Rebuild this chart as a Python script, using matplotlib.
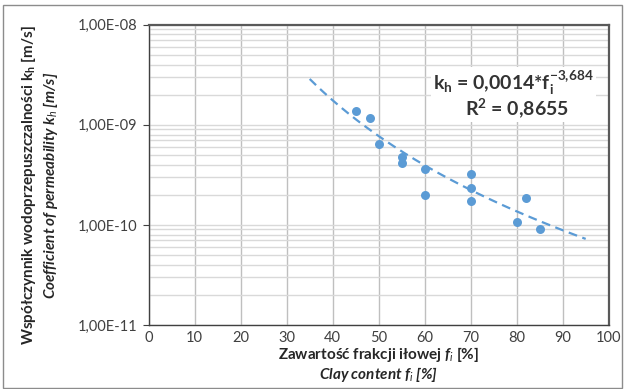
import matplotlib
matplotlib.use("Agg")
import matplotlib.pyplot as plt
import numpy as np
from matplotlib.patches import Rectangle
from matplotlib.ticker import FixedLocator, LogLocator, NullFormatter

plt.rcParams['font.family'] = ['Lato', 'DejaVu Sans']
plt.rcParams['mathtext.fontset'] = 'custom'
plt.rcParams['mathtext.rm'] = 'Lato'
plt.rcParams['mathtext.it'] = 'Lato:italic'
plt.rcParams['mathtext.bf'] = 'Lato:bold'
plt.rcParams['mathtext.bfit'] = 'Lato:bold:italic'

# data
clay = [45, 48, 50, 55, 55, 60, 60, 70, 70, 70, 80, 82, 85]
kh = [1.38e-9, 1.18e-9, 6.5e-10, 4.8e-10, 4.2e-10, 3.65e-10, 2.0e-10,
      3.2e-10, 2.35e-10, 1.75e-10, 1.07e-10, 1.87e-10, 9.2e-11]
trend_a = 0.0014
trend_b = -3.684
trend_range = [35, 95]
x_ticks = [0, 10, 20, 30, 40, 50, 60, 70, 80, 90, 100]
y_ticks = [1e-11, 1e-10, 1e-9, 1e-8]
y_ticklabels = ['1,00E-11', '1,00E-10', '1,00E-09', '1,00E-08']

blue = '#5b9bd5'
W, H = 624, 389
fig = plt.figure(figsize=(W / 100, H / 100), dpi=100)
ax = fig.add_axes([148.7 / W, 1 - 325 / H, (608.7 - 148.7) / W, (325 - 24.7) / H])

ax.set_yscale('log')
ax.set_xlim(0, 100)
ax.set_ylim(1e-11, 1e-8)
ax.xaxis.set_major_locator(FixedLocator(x_ticks))
ax.set_xticklabels([str(t) for t in x_ticks])
ax.yaxis.set_major_locator(FixedLocator(y_ticks))
ax.set_yticklabels(y_ticklabels)
ax.yaxis.set_minor_locator(LogLocator(base=10, subs=np.arange(2, 10)))
ax.yaxis.set_minor_formatter(NullFormatter())
ax.tick_params(axis='both', which='both', length=0, labelsize=10.5, colors='#404040', pad=4)
ax.tick_params(axis='y', which='major', length=4, color='#404040', direction='out')
ax.grid(True, which='major', axis='x', color='#bfbfbf', lw=1.0)
ax.grid(True, which='both', axis='y', color='#d9d9d9', lw=1.0)
ax.set_axisbelow(True)

for s in ['left', 'bottom']:
    ax.spines[s].set_color('#404040')
    ax.spines[s].set_linewidth(1.0)
for s in ['top', 'right']:
    ax.spines[s].set_color('#595959')
    ax.spines[s].set_linewidth(1.6)

xf = np.linspace(trend_range[0], trend_range[1], 200)
ax.plot(xf, trend_a * xf ** trend_b, color=blue, lw=1.6, ls=(0, (4, 2.5)), zorder=3)
ax.scatter(clay, kh, s=42, color=blue, zorder=4, linewidths=0)

ax.text(0.968, 0.806, r'k$_\mathbf{h}$ = 0,0014*f$_\mathbf{i}^{\mathbf{-3{,}684}}$',
        transform=ax.transAxes, ha='right', va='center', fontsize=14, fontweight='bold',
        color='#333333', bbox=dict(facecolor='white', edgecolor='none', pad=1.5), zorder=5)
ax.text(0.914, 0.723, r'R$^\mathbf{2}$ = 0,8655',
        transform=ax.transAxes, ha='right', va='center', fontsize=14, fontweight='bold',
        color='#333333', bbox=dict(facecolor='white', edgecolor='none', pad=1.5), zorder=5)

# axis titles
fig.text(378 / W, 1 - 355 / H, r'Zawartość frakcji iłowej $\mathbfit{f}_\mathit{i}$ [%]',
         ha='center', va='center', fontsize=11, fontweight='bold', color='#262626')
fig.text(378 / W, 1 - 374 / H, r'Clay content $\mathbfit{f}_\mathit{i}$ [%]',
         ha='center', va='center', fontsize=11, fontweight='bold', style='italic', color='#262626')
fig.text(29 / W, 1 - 185 / H, r'Współczynnik wodoprzepuszczalności k$_\mathregular{h}$ [m/s]',
         ha='center', va='center', rotation=90, fontsize=11, fontweight='bold', color='#262626')
fig.text(50 / W, 1 - 185 / H, r'Coefficient of permeability $\mathbfit{k}_\mathit{h}$ [m/s]',
         ha='center', va='center', rotation=90, fontsize=11, fontweight='bold', style='italic', color='#262626')

fig.patches.append(Rectangle((3 / W, 1 / H), (622 - 3) / W, (384 - 1) / H, transform=fig.transFigure,
                             fill=False, edgecolor='#8c8c8c', lw=1.0))

fig.savefig('out.png', dpi=100)
